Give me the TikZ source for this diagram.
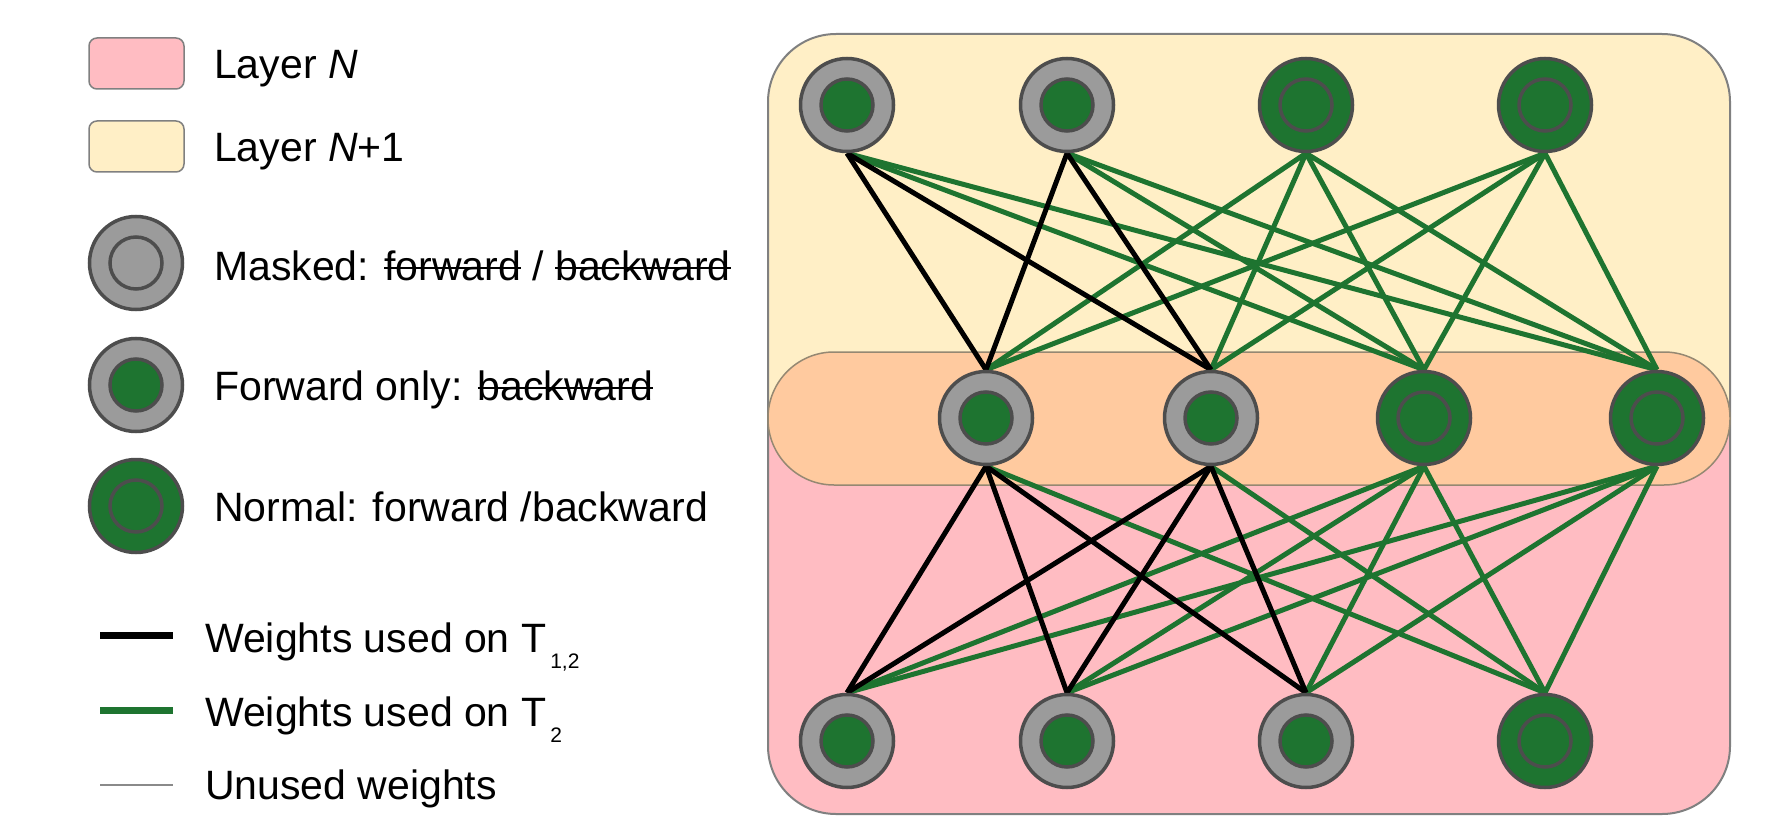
\documentclass[tikz,border=0pt]{standalone}
\usepackage{fontspec}
\setmainfont{Liberation Sans}
\definecolor{nodegreen}{HTML}{1E7430}
\definecolor{nodegray}{HTML}{9B9B9B}
\definecolor{ringdark}{HTML}{4D4D4D}
\definecolor{layerpink}{HTML}{FFBCC2}
\definecolor{layeryellow}{HTML}{FFEFC6}
\definecolor{layerorange}{HTML}{FFCA9F}
\definecolor{boxline}{HTML}{808080}
\definecolor{bandline}{HTML}{958872}
\definecolor{unusedgray}{HTML}{8A8A8A}
\pgfdeclarelayer{bg}
\pgfdeclarelayer{edges}
\pgfsetlayers{bg,edges,main}
\tikzset{
  neuron/.style={circle, minimum size=93pt, inner sep=0pt, line width=3.5pt, draw=ringdark},
  fwdonly/.style={neuron, fill=nodegray, path picture={\draw[line width=3.5pt, draw=ringdark, fill=nodegreen] (path picture bounding box.center) circle (26pt);}},
  maskedn/.style={neuron, fill=nodegray, path picture={\draw[line width=3.5pt, draw=ringdark, fill=nodegray] (path picture bounding box.center) circle (26pt);}},
  normaln/.style={neuron, fill=nodegreen, path picture={\draw[line width=3.5pt, draw=ringdark, fill=nodegreen] (path picture bounding box.center) circle (26pt);}},
  wblack/.style={line width=5pt, black},
  wgreen/.style={line width=5pt, nodegreen},
  legtext/.style={anchor=base west, inner sep=0pt, font=\fontsize{41}{48}\selectfont},
  swatch/.style={rounded corners=8pt, draw=boxline, line width=1.5pt},
}
\newsavebox{\strkbox}
\newcommand{\strk}[1]{\sbox{\strkbox}{#1}\rlap{\rule[11pt]{\wd\strkbox}{2.5pt}}\usebox{\strkbox}}
\newcommand{\subtxt}[1]{\hspace{4pt}\raisebox{-16pt}{\fontsize{21}{21}\selectfont #1}}
\begin{document}
\begin{tikzpicture}[x=1pt, y=-1pt]
\useasboundingbox (0,0) rectangle (1774,834);
\begin{pgfonlayer}{bg}
  \fill[white] (0,0) rectangle (1774,834);
  \fill[layerpink, rounded corners=68pt] (768,34) rectangle (1730,814);
  \begin{scope}
    \clip (760,20) rectangle (1740,420);
    \fill[layeryellow, rounded corners=68pt] (768,34) rectangle (1730,814);
  \end{scope}
  \draw[boxline, line width=2pt, rounded corners=68pt] (768,34) rectangle (1730,814);
  \filldraw[fill=layerorange, draw=bandline, line width=1.5pt, rounded corners=66pt] (768,352) rectangle (1730,485);
\end{pgfonlayer}

% network nodes
\node[fwdonly] (T1) at (847,105) {};
\node[fwdonly] (T2) at (1067,105) {};
\node[normaln] (T3) at (1306,105) {};
\node[normaln] (T4) at (1545,105) {};
\node[fwdonly] (M1) at (986,418) {};
\node[fwdonly] (M2) at (1211,418) {};
\node[normaln] (M3) at (1424,418) {};
\node[normaln] (M4) at (1657,418) {};
\node[fwdonly] (B1) at (847,741) {};
\node[fwdonly] (B2) at (1067,741) {};
\node[fwdonly] (B3) at (1306,741) {};
\node[normaln] (B4) at (1545,741) {};

\begin{pgfonlayer}{edges}
  % upper weights
  \foreach \t in {T1,T2} \foreach \m in {M3,M4} \draw[wgreen] (\t.south) -- (\m.north);
  \foreach \t in {T3,T4} \foreach \m in {M1,M2,M3,M4} \draw[wgreen] (\t.south) -- (\m.north);
  \foreach \t in {T1,T2} \foreach \m in {M1,M2} \draw[wblack] (\t.south) -- (\m.north);
  % lower weights
  \foreach \m in {M1,M2} \draw[wgreen] (\m.south) -- (B4.north);
  \foreach \m in {M3,M4} \foreach \b in {B1,B2,B3,B4} \draw[wgreen] (\m.south) -- (\b.north);
  \foreach \m in {M1,M2} \foreach \b in {B1,B2,B3} \draw[wblack] (\m.south) -- (\b.north);
\end{pgfonlayer}

% legend
\filldraw[swatch, fill=layerpink] (89,38) rectangle (184,89);
\node[legtext] (lN) at (214,79) {Layer \textit{N}};
\filldraw[swatch, fill=layeryellow] (89,121) rectangle (184,172);
\node[legtext] (lN1) at (214,162) {Layer \textit{N}+1};

\node[maskedn] (Lmask) at (136,263) {};
\node[legtext] (lmask) at (214,280) {Masked: \strk{forward} / \strk{backward}};
\node[fwdonly] (Lfwd) at (136,385) {};
\node[legtext] (lfwd) at (214,400) {Forward only: \strk{backward}};
\node[normaln] (Lnorm) at (136,506) {};
\node[legtext] (lnorm) at (214,521) {Normal: forward /backward};

\coordinate (kb1) at (100,635); \coordinate (kb2) at (173,635);
\draw[line width=7pt, black] (kb1) -- (kb2);
\node[legtext] (lblack) at (205,652) {Weights used on T\subtxt{1,2}};
\coordinate (kg1) at (100,710); \coordinate (kg2) at (173,710);
\draw[line width=7pt, nodegreen] (kg1) -- (kg2);
\node[legtext] (lgreen) at (205,726) {Weights used on T\subtxt{2}};
\coordinate (ku1) at (100,785); \coordinate (ku2) at (173,785);
\draw[line width=2.5pt, unusedgray] (ku1) -- (ku2);
\node[legtext] (lunused) at (205,799) {Unused weights};
\end{tikzpicture}
\end{document}
